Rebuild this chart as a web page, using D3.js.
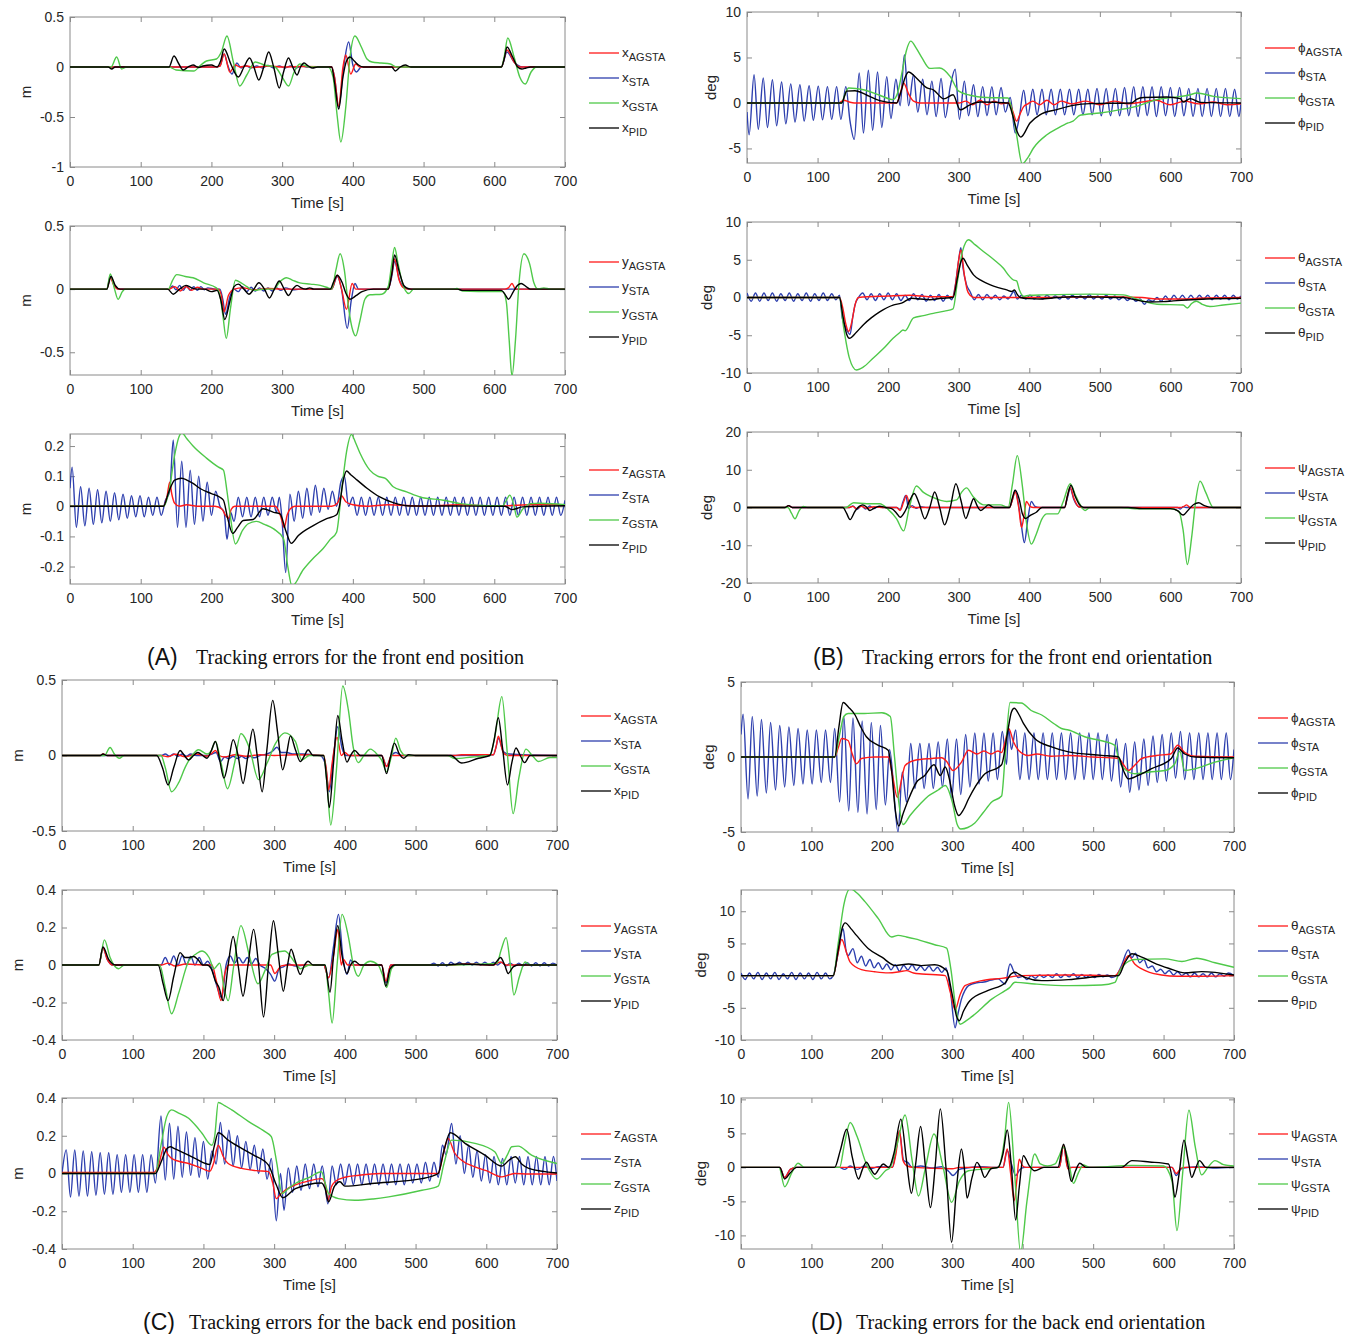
<!DOCTYPE html>
<html><head><meta charset="utf-8">
<script src="https://cdn.jsdelivr.net/npm/d3@7"></script>
<style>body{margin:0;background:#fff;}svg{display:block;}text{font-family:"Liberation Sans",Arial,sans-serif;}</style>
</head><body><svg id="c" width="1359" height="1334"></svg>
<script>
// ---------- axis tick values ----------
const timeTicks=[0,100,200,300,400,500,600,700];
const ticksA1=[-1,-0.5,0,0.5], ticksA2=[-0.5,0,0.5], ticksA3=[-0.2,-0.1,0,0.1,0.2];
const ticksB1=[-5,0,5,10], ticksB2=[-10,-5,0,5,10], ticksB3=[-20,-10,0,10,20];
const ticksC1=[-0.5,0,0.5], ticksC2=[-0.4,-0.2,0,0.2,0.4], ticksC3=[-0.4,-0.2,0,0.2,0.4];
const ticksD1=[-5,0,5], ticksD2=[-10,-5,0,5,10], ticksD3=[-10,-5,0,5,10];
const limA1=[-1,0.5], limA2=[-0.68,0.5], limA3=[-0.258,0.24];
const limB1=[-6.6,10], limB2=[-10,10], limB3=[-20,20];
const limC1=[-0.5,0.5], limC2=[-0.4,0.4], limC3=[-0.4,0.4];
const limD1=[-5,5], limD2=[-10,13.3], limD3=[-12,10.2];
const seriesNames=['AGSTA','STA','GSTA','PID'];
const captions=[['(A)','Tracking errors for the front end position'],['(B)','Tracking errors for the front end orientation'],['(C)','Tracking errors for the back end position'],['(D)','Tracking errors for the back end orientation']];

// ---------- series: flat lists [time, value, time, value, ...] ----------
// (A) front end position
const A1_AGSTA=[0,0,205,0,212,0.01,218,0.13,226,-0.05,234,0.02,240,0,250,0.01,260,-0.005,280,0.01,300,0,330,0.005,370,0,374,-0.1,380,-0.39,386,0,390,0.12,397,-0.07,404,0.03,410,0,610,0,618,0.17,628,0.05,636,0,700,0];
const A1_STA=[0,0,205,0,212,0.01,218,0.13,223,0.02,229,-0.07,236,0.04,242,-0.01,248,0.015,256,-0.01,264,0.01,272,-0.01,280,0.015,288,-0.01,296,0.01,304,-0.01,312,0.01,320,-0.01,328,0.01,336,0,370,0,374,-0.1,380,-0.40,387,0,394,0.25,400,0.02,405,-0.05,412,0,610,0,618,0.15,628,0.05,640,0,700,0];
const A1_GSTA=[0,0,58,0,66,0.10,73,-0.02,80,0,140,0,150,-0.03,175,-0.04,185,0.02,193,0.06,207,0.08,214,0.15,222,0.31,231,0.05,240,-0.19,250,-0.08,262,0.05,275,0.02,290,0,300,-0.1,309,-0.19,317,-0.05,325,0.03,340,0,365,0,372,-0.1,378,-0.5,383,-0.75,390,-0.4,396,0.1,403,0.31,412,0.2,420,0.08,427,0.05,440,0.04,453,0.03,462,0,610,0,614,0.1,619,0.29,628,0.1,636,-0.1,644,-0.17,652,-0.05,660,0,700,0];
const A1_PID=[0,0,54,0,59,-0.02,64,0,140,0,147,0.11,154,0.03,160,-0.03,167,0,174,0.02,182,-0.005,188,0.01,200,0.02,208,0,213,0.06,218,0.18,228,0.02,238,-0.10,246,0,254,0.09,260,0,267,-0.13,274,0,281,0.15,288,0,296,-0.21,302,-0.05,309,0.09,315,0,321,-0.08,326,0,331,0.04,337,0.01,343,-0.01,350,0,370,0,374,-0.15,380,-0.42,386,-0.1,391,0.06,396,0.10,402,0.06,408,0.02,415,0,455,0,460,-0.04,467,0,474,0.02,482,0,610,0,614,0.08,618,0.20,626,0.1,633,0,639,-0.02,645,-0.01,651,0,700,0];
const A2_AGSTA=[0,0,52,0,57,0.09,62,0.03,68,0,140,0,148,0.02,156,-0.015,164,0.02,172,-0.01,180,0.015,188,0,210,0,214,-0.05,218,-0.18,224,-0.05,232,0,245,0.01,260,-0.005,280,0.005,300,0,370,0,378,0.11,384,0,391,-0.16,399,0.045,404,0,450,0,455,0.12,459,0.24,465,0.08,472,0.01,480,0,615,0,620,0.01,625,0.045,630,0,700,0];
const A2_STA=[0,0,52,0,57,0.1,62,0.04,68,0,140,0,145,0.025,150,-0.005,155,0.03,160,-0.01,165,0.025,170,-0.01,175,0.02,180,-0.01,185,0.02,190,-0.005,195,0.01,205,0,212,0,216,-0.08,220,-0.2,226,-0.06,232,0,238,-0.02,244,0.02,250,-0.02,256,0.015,262,-0.015,268,0.01,274,-0.015,280,0.01,286,-0.015,292,0.01,298,-0.01,305,0.01,315,-0.005,325,0,370,0,378,0.1,384,0,392,-0.31,398,-0.08,403,0.045,408,0,450,0,455,0.1,459,0.22,466,0.07,474,0.01,480,0,700,0];
const A2_GSTA=[0,0,52,0,57,0.12,63,0,68,-0.08,74,-0.02,78,0,139,0,145,0.07,151,0.115,163,0.1,174,0.09,189,0.05,207,0.01,212,-0.05,216,-0.2,221,-0.39,227,-0.15,234,0.07,242,0.05,250,0.02,259,-0.01,275,0,288,0,297,0.06,306,0.09,315,0.07,325,0.05,340,0.04,354,0.03,365,0.01,370,0,376,0.15,382,0.28,388,0.15,394,-0.15,400,-0.33,404,-0.37,410,-0.25,417,-0.08,424,-0.045,441,-0.04,450,0.02,455,0.2,459,0.33,464,0.2,470,0.05,479,-0.035,486,0,540,0,547,0.005,555,-0.015,600,-0.02,612,-0.02,617,-0.1,621,-0.4,625,-0.69,630,-0.4,635,0.05,642,0.28,650,0.2,656,0.05,662,0,670,0.01,680,0,700,0];
const A2_PID=[0,0,52,0,58,0.10,64,0.03,71,0,138,0,146,-0.04,155,0,164,0.03,172,0.01,180,0,190,0,200,-0.02,208,-0.01,213,-0.08,219,-0.24,226,-0.1,232,0.02,238,0.04,246,0,253,-0.04,260,0,267,0.05,275,0,282,-0.07,289,0,296,0.065,303,0,309,-0.05,315,0,321,0.03,327,0.01,333,0,339,0.01,345,0,368,0,373,0.06,378,0.11,385,0.05,390,-0.03,396,-0.08,405,-0.05,413,-0.02,429,0,450,0,455,0.12,459,0.27,465,0.15,472,0.03,476,0.01,482,0,548,0,555,-0.01,610,-0.01,615,-0.04,620,-0.08,627,-0.02,633,0.03,638,0.045,645,0.02,651,0,700,0];
const A3_AGSTA=[0,0,132,0,137,0.03,141,0.08,144,0.04,148,0.01,155,0,165,0.005,180,0,205,0,215,-0.01,220,-0.03,224,-0.04,228,-0.01,233,0,290,0,296,-0.02,300,-0.05,303,-0.07,307,-0.03,311,-0.01,318,0,370,0,378,0.01,384,0.035,390,0.015,400,0.005,420,0,450,0.005,500,0,550,0.005,600,0,650,0.005,700,0.005];
const A3_STA=[0,0.06,3,0.13,9,-0.07,15,0.065,21,-0.065,27,0.06,33,-0.06,39,0.055,45,-0.055,51,0.05,57,-0.05,63,0.045,69,-0.045,75,0.04,81,-0.04,87,0.035,93,-0.035,99,0.035,105,-0.035,111,0.03,117,-0.03,123,0.03,129,-0.03,135,0.02,141,0.05,146,0.22,152,-0.07,158,0.15,164,-0.07,170,0.12,176,-0.06,182,0.10,188,-0.05,194,0.08,200,-0.03,206,0.05,212,0,218,-0.02,222,-0.11,227,-0.02,232,-0.05,238,0.03,244,-0.035,250,0.03,256,-0.035,262,0.03,268,-0.035,274,0.03,280,-0.03,286,0.03,292,-0.02,296,0.03,300,-0.05,305,-0.22,311,0.04,317,-0.05,323,0.05,329,-0.04,335,0.06,341,-0.03,347,0.07,353,-0.02,359,0.06,365,-0.01,371,0.05,377,0,383,0.08,388,0.10,394,0,400,0.03,406,-0.03,412,0.03,418,-0.03,424,0.03,430,-0.03,436,0.03,442,-0.03,448,0.03,454,-0.03,460,0.03,466,-0.03,472,0.03,478,-0.03,484,0.03,490,-0.03,496,0.03,502,-0.03,508,0.03,514,-0.03,520,0.03,526,-0.03,532,0.03,538,-0.03,544,0.03,550,-0.03,556,0.03,562,-0.03,568,0.03,574,-0.03,580,0.03,586,-0.03,592,0.03,598,-0.03,604,0.03,610,-0.03,616,0.03,622,-0.03,628,0.03,634,-0.03,640,0.03,646,-0.03,652,0.03,658,-0.03,664,0.03,670,-0.03,676,0.03,682,-0.03,688,0.03,694,-0.03,700,0.02];
const A3_GSTA=[0,0,132,0,140,0.05,148,0.17,154,0.23,158,0.244,165,0.225,174,0.2,193,0.16,210,0.13,217,0.12,222,0.05,226,-0.02,234,-0.125,244,-0.08,252,-0.058,264,-0.05,275,-0.06,288,-0.075,302,-0.108,308,-0.2,314,-0.265,330,-0.21,345,-0.17,358,-0.14,368,-0.11,377,-0.086,384,0.05,391,0.18,398,0.238,404,0.21,410,0.177,424,0.12,435,0.1,446,0.093,457,0.065,476,0.048,495,0.031,528,0.02,552,0.009,590,0.002,612,0.002,617,0.02,622,0.037,628,0,632,-0.036,640,-0.01,651,0.009,665,0.01,700,0.005];
const A3_PID=[0,0,132,0,140,0.05,148,0.087,158,0.093,166,0.086,174,0.076,184,0.059,200,0.042,212,0.03,217,0.02,223,-0.04,230,-0.09,237,-0.07,245,-0.047,259,-0.044,273,-0.008,288,-0.02,297,-0.025,305,-0.08,313,-0.123,323,-0.097,344,-0.064,363,-0.041,377,-0.028,381,0,386,0.08,391,0.117,397,0.105,403,0.093,420,0.06,438,0.031,457,0.012,481,0.001,542,0.001,600,0,615,0,625,-0.011,640,-0.002,700,0.002];
// (B) front end orientation
const B1_AGSTA=[0,0,130,0,137,0.3,145,0.1,152,0,212,0,217,1.0,222,2.2,229,1.0,236,0.2,245,0,300,0,310,0.2,320,-0.2,330,0.3,340,-0.2,350,0.2,360,-0.1,372,0,377,-1.0,382,-2.0,387,-1.2,392,-0.4,398,-0.1,405,0.2,415,-0.2,425,0.3,435,-0.2,445,0.2,460,-0.1,480,0.2,500,-0.2,520,0.2,540,-0.1,560,0.1,580,0.3,600,-0.2,620,0.2,640,-0.1,660,0.1,680,-0.2,700,-0.1];
const B1_STA=[0,-1.0,3,-3.5,10,3.1,16,-2.9,23,2.75,29,-2.7,36,2.55,42,-2.5,49,2.3,55,-2.3,62,2.1,68,-2.1,75,2.0,81,-2.0,88,1.9,94,-1.9,101,1.85,107,-1.85,114,1.8,120,-1.8,127,1.8,133,-1.8,140,1.8,146,-2.0,152,-4.0,159,3.3,165,-3.3,172,3.6,178,-3.0,185,3.4,191,-2.7,198,2.9,204,-1.7,211,2.6,217,-0.3,223,5.3,229,-0.3,236,3.1,242,-1.0,249,2.6,255,-1.3,262,2.4,268,-1.5,275,2.7,281,-1.6,288,1.8,295,3.7,301,-1.8,308,2.4,314,-1.4,321,2.0,327,-1.5,334,1.8,340,-1.4,347,1.8,353,-1.3,360,1.7,366,-1.0,373,0.6,380,-3.3,386,-1.5,392,1.4,398,-1.4,405,1.5,411,-1.3,418,1.5,424,-1.3,431,1.5,437,-1.3,444,1.5,450,-1.3,457,1.5,463,-1.3,470,1.5,476,-1.3,483,1.5,489,-1.3,496,1.6,502,-1.4,509,1.6,515,-1.4,522,1.6,528,-1.4,535,1.7,541,-1.4,548,1.8,554,-1.5,561,1.8,567,-1.4,574,1.8,580,-1.5,587,1.8,593,-1.4,600,1.7,606,-1.5,613,1.7,619,-1.4,626,1.6,632,-1.5,639,1.6,645,-1.5,652,1.6,658,-1.5,665,1.6,671,-1.5,678,1.6,684,-1.5,691,1.5,697,-1.5,700,0];
const B1_GSTA=[0,0,134,0,139,1.0,144,1.65,165,1.45,188,0.85,207,0.37,213,1.0,220,3.5,226,5.8,232,6.8,240,6.0,248,4.95,259,3.8,273,3.85,288,2.9,300,1.3,316,0.85,340,0.6,370,0.55,376,-1.0,382,-3.5,390,-6.7,398,-6.0,406,-4.95,425,-3.5,440,-2.8,455,-2.2,462,-2.0,472,-1.35,500,-1.1,529,-0.73,552,-0.37,581,0.37,604,0.62,628,0.9,637,1.1,661,0.73,700,0.48];
const B1_PID=[0,0,134,0,138,0.7,141,1.3,153,1.35,170,0.85,188,0.25,212,0,218,1.2,224,2.8,229,3.4,240,2.75,255,1.65,264,1.45,279,0.45,292,0.9,302,-0.75,316,-0.2,330,0.1,370,0,377,-1.5,383,-3.2,388,-3.75,401,-2.2,415,-1.3,439,-0.73,462,-0.26,486,-0.07,545,0,552,0.4,562,0.6,595,0.66,614,0.48,618,0.1,628,0.48,642,0.07,700,0];
const B2_AGSTA=[0,0,131,0,136,-1.5,140,-3.5,144,-4.5,149,-3.0,153,-1.0,158,0,200,0.2,230,0.3,260,0.1,292,0.1,296,2.0,300,5.0,303,6.3,308,3.0,312,1.0,316,0.3,322,0,400,0,500,0.1,560,0,580,-0.2,620,-0.2,640,-0.1,700,0];
const B2_STA=[0,0.6,6,-0.5,12,0.6,18,-0.5,24,0.6,30,-0.4,36,0.6,42,-0.5,48,0.5,54,-0.4,60,0.6,66,-0.5,72,0.5,78,-0.4,84,0.6,90,-0.5,96,0.5,102,-0.4,108,0.6,114,-0.4,120,0.5,126,-0.3,131,0.3,135,-2.7,140,-4.0,146,-4.9,150,-2.5,153,-1.0,158,0,164,0.6,170,-0.3,176,0.5,182,-0.4,188,0.5,194,-0.3,200,0.6,206,-0.3,212,0.5,218,-0.4,224,0.3,230,-0.4,236,0.5,242,-0.3,248,0.4,254,-0.5,260,0.3,266,-0.4,272,0.4,278,-0.5,284,0.3,290,-0.3,295,1.5,300,5.0,303,6.6,306,4.0,311,1.7,316,0.8,322,-0.3,328,0.4,334,-0.3,340,0.4,346,-0.2,352,0.3,358,-0.3,364,0.2,370,-0.2,374,0.3,378,0.8,383,-0.2,389,0.3,395,-0.2,401,0.3,407,-0.2,413,0.2,419,-0.2,425,0.3,431,-0.1,437,0.2,443,-0.2,449,0.3,455,-0.2,461,0.3,467,-0.1,473,0.2,479,-0.2,485,0.4,491,-0.2,497,0.2,503,-0.2,509,0.3,515,-0.2,521,0.2,527,-0.3,533,0.1,539,-0.4,545,0,551,-0.5,557,-0.2,563,-0.9,569,-0.3,575,-0.5,581,0,587,-0.5,593,0.2,599,-0.4,605,0.3,611,-0.3,617,0.3,623,-0.3,629,0.3,635,-0.3,641,0.3,647,-0.2,653,0.3,659,-0.3,665,0.3,671,-0.2,677,0.3,683,-0.3,689,0.3,695,-0.2,700,0.2];
const B2_GSTA=[0,0,131,0,137,-4.0,145,-8.0,155,-9.6,165,-9.2,179,-8.0,193,-6.8,207,-5.4,217,-4.6,221,-4.3,224,-4.4,236,-2.7,250,-2.4,264,-2.1,280,-1.8,292,-1.5,298,2.0,305,6.0,314,7.65,323,7.0,335,6.1,350,5.0,363,3.9,372,2.8,377,2.35,382,2.2,386,1.0,392,0.15,400,0.3,420,0.35,486,0.45,533,0.35,555,-0.3,581,-0.9,618,-1.0,624,-1.4,630,-0.8,637,-0.5,645,-0.9,656,-1.2,675,-1.0,700,-0.75];
const B2_PID=[0,0,131,0,136,-2.5,141,-4.8,145,-5.4,155,-4.6,165,-3.6,176,-2.7,188,-1.9,207,-1.0,219,-0.75,233,-0.1,246,-0.2,259,-0.3,275,-0.1,292,0,298,2.5,303,4.7,306,5.2,312,4.3,321,3.0,333,2.2,344,1.7,356,1.3,368,1.0,375,0.8,379,1.0,383,0.4,387,0,400,-0.15,415,-0.2,440,0,462,0.1,500,0.05,533,0,550,-0.3,571,-0.6,590,-0.55,604,-0.45,630,-0.3,651,-0.2,700,-0.1];
const B3_AGSTA=[0,0,54,0,59,0.5,64,0,145,0,150,0.3,155,-0.3,162,0.3,170,-0.2,180,0.2,190,0,212,0,217,-0.8,222,1.5,226,3.2,231,0.5,236,0,372,0,376,2.0,380,4.1,385,0,389,-5.3,393,-1.5,396,1.6,401,0.3,406,0,450,0,454,3.0,458,5.4,463,2.5,470,0.2,476,0,615,0,619,0.3,623,0.7,628,0,700,0];
const B3_STA=[0,0,54,0,59,0.5,64,0,145,0,150,0.4,156,-0.5,162,0.5,168,-0.4,174,0.4,180,-0.3,186,0.3,192,0,212,0,217,-0.5,221,1.5,225,3.2,229,-0.3,234,0.5,240,-0.2,246,0.2,255,0,372,0,376,2.0,380,4.5,385,0.5,389,-5.0,393,-9.3,398,-3.0,403,1.6,408,0.3,414,0,450,0,454,2.5,458,5.0,463,2.2,470,0.2,476,0,610,0,614,-0.4,618,0.2,622,0,700,0];
const B3_GSTA=[0,0,58,0,63,-1.5,68,-3.0,74,-0.8,80,0.3,86,0,140,0,151,1.25,170,1.0,188,1.0,200,-0.5,212,-3.0,222,-6.2,230,0,240,5.7,250,4.0,262,2.8,283,1.6,297,2.0,304,4.0,311,5.2,320,3.0,335,0.7,359,0.7,370,0,376,6.0,383,13.75,390,6.0,396,-4.0,403,-9.7,410,-7.0,418,-3.0,425,-1.7,440,-1.7,448,1.5,458,6.3,466,3.0,479,-0.8,486,0,530,0,550,-0.35,600,-0.35,612,-1.0,618,-6.0,624,-15.1,630,-8.0,636,2.0,642,7.0,650,4.0,661,0,700,0];
const B3_PID=[0,0,54,0,59,0.5,64,0,136,0,141,-1.5,146,-3.2,153,-1.0,159,0.3,164,0.7,169,0.2,174,-0.8,180,-0.2,188,0.35,196,0,205,-0.3,212,-1.5,217,-2.6,224,-1.0,231,2.0,237,3.7,244,1.0,252,-3.0,259,0,266,4.1,273,0,280,-4.6,288,0,296,6.3,303,2.0,310,-2.9,316,0,321,2.3,326,0.5,331,-0.8,337,0,342,0.7,350,0,372,0,376,2.5,380,4.55,386,2.0,390,-1.5,395,-2.9,402,-2.0,410,-1.25,418,0,450,0,454,3.0,459,5.9,465,3.0,471,0.8,477,0,540,0,560,-0.3,600,-0.3,610,-0.8,618,-2.0,626,-0.5,633,0.8,640,1.25,648,0.5,661,0,700,0];
// (C) back end position
const C1_AGSTA=[0,0,54,0,58,0.01,64,0,140,0,150,-0.008,160,0.008,175,-0.008,190,0.01,205,-0.005,212,0.015,217,0.033,222,0,230,-0.01,245,0.005,260,-0.005,280,0.005,300,0,330,0.005,370,0,374,-0.1,377,-0.23,382,-0.05,389,0.12,395,0,400,0.02,406,0,452,0,459,-0.073,466,0,555,0,565,0.005,610,0.005,614,0.06,617,0.127,624,0.02,630,0,700,0];
const C1_STA=[0,0,140,0,146,0.01,152,-0.005,158,0.01,164,-0.005,170,0.01,176,-0.005,182,0.01,190,0,205,0,212,0.01,218,0.02,224,-0.04,230,-0.01,236,-0.02,242,-0.005,248,-0.02,254,-0.005,260,-0.02,266,-0.005,272,-0.015,280,0,290,0.01,298,0.03,304,0.055,310,0.02,318,0.02,326,0.01,340,0.01,365,0,372,-0.05,378,-0.24,384,0,390,0.19,396,0.05,402,0,452,0,459,-0.07,466,0,472,0.02,480,0,555,0,610,0.005,614,0.06,617,0.115,624,0.027,632,0.01,700,0];
const C1_GSTA=[0,0,60,0,68,0.053,74,0.01,81,-0.018,88,0,140,0,146,-0.08,155,-0.24,165,-0.18,174,-0.08,184,0,193,0.038,205,0.01,211,0.03,217,0.093,225,-0.05,234,-0.22,244,-0.05,253,0.145,265,0.05,278,-0.16,290,-0.05,302,0.08,315,0.15,330,0.093,339,-0.03,350,0,370,0,375,-0.2,380,-0.46,388,-0.1,397,0.46,405,0.3,412,0.05,419,-0.047,427,0,436,0.042,447,0,452,-0.03,459,-0.107,466,0,472,0.115,479,0.03,486,0,545,0,555,-0.02,580,-0.01,605,0,613,0.15,622,0.39,630,0,638,-0.385,646,-0.15,656,0.042,665,0,674,-0.04,690,-0.013,700,-0.013];
const C1_PID=[0,0,54,0,58,0.01,64,0,134,0,142,-0.08,150,-0.195,158,-0.08,167,0.033,173,0,179,-0.03,186,0,192,0.02,199,0,205,-0.018,211,0.03,217,0.093,223,-0.03,229,-0.15,236,-0.02,242,0.105,249,0,256,-0.185,263,0,270,0.175,276,0,283,-0.24,290,0.05,298,0.365,305,0.15,312,-0.095,318,0.02,323,0.13,330,0.04,337,-0.04,343,0,348,0.038,355,0,370,0,374,-0.15,378,-0.345,384,-0.05,390,0.265,396,0.1,403,-0.044,408,0,414,0.033,422,0,452,0,459,-0.12,464,-0.02,470,0.082,477,0.01,483,-0.018,490,0.005,500,0,550,0,565,-0.05,589,-0.018,605,0,611,0.1,617,0.25,623,0.05,630,-0.195,636,-0.05,642,0.05,648,0,654,-0.047,662,0,700,0];
const C2_AGSTA=[0,0,52,0,58,0.09,64,0.03,72,0,140,0,150,0.01,160,-0.005,175,0.005,200,0,212,0,218,-0.08,225,-0.19,230,-0.05,236,0,295,0,301,-0.045,310,-0.005,320,0,370,0,377,-0.068,384,0.05,390,0.19,395,0,398,0.03,404,0,452,0,458,-0.086,465,0,555,0,570,0.005,610,0,620,0.016,628,0,700,0];
const C2_STA=[0,0,52,0,58,0.09,64,0.03,72,0,140,0,146,0.04,152,0,158,0.048,164,0,170,0.05,176,0,182,0.045,188,0,194,0.04,200,0,206,0.02,212,-0.02,218,-0.1,226,-0.175,232,0,238,0.048,244,0.01,250,0.04,256,0.01,262,0.04,268,0.005,274,0.035,280,0,288,-0.02,295,-0.05,301,-0.086,307,-0.02,313,-0.01,320,0.005,330,-0.005,345,0,370,0,377,-0.068,384,0.1,391,0.27,397,0.05,403,-0.05,408,0.027,414,0,452,0,458,-0.095,465,0,520,0,526,0.01,532,-0.005,538,0.012,544,-0.005,550,0.015,556,0,562,0.015,568,0,574,0.015,580,0,586,0.015,592,0,598,0.015,604,0,610,0.015,616,0,622,0.015,628,-0.005,634,0.01,640,-0.005,646,0.01,652,-0.005,658,0.012,664,-0.005,670,0.012,676,-0.005,682,0.012,688,-0.005,694,0.01,700,0];
const C2_GSTA=[0,0,52,0,60,0.134,68,0.04,80,-0.02,88,0,138,0,146,-0.12,155,-0.26,165,-0.15,179,0.02,190,0.06,198,0.075,208,0.04,215,-0.02,220,0,223,0.01,229,-0.12,235,-0.19,243,0,253,0.21,265,0.05,277,-0.1,287,-0.03,297,0.057,315,0.075,330,0.01,337,-0.02,350,0,372,0,377,-0.15,382,-0.31,389,0,396,0.27,405,0.15,412,0,419,-0.06,427,0,436,0.02,447,0,453,-0.05,459,-0.12,466,-0.02,472,0,500,0,540,0,600,0.005,615,0.01,621,0.08,628,0.146,634,0,639,-0.16,647,-0.06,655,0.016,662,0,700,0];
const C2_PID=[0,0,52,0,58,0.096,66,0.03,76,0,136,0,143,-0.1,150,-0.19,158,-0.06,167,0.066,174,0.04,180,0.04,186,0.045,192,0.03,199,0,205,0,211,-0.02,217,-0.086,222,-0.12,228,-0.19,235,0,242,0.152,249,0,256,-0.166,263,0,271,0.19,278,0,285,-0.277,292,0,299,0.236,306,0.05,313,-0.14,319,0,324,0.084,330,0.02,337,-0.05,343,0,348,0.02,355,0,372,0,379,-0.145,384,0.05,390,0.21,396,0.05,403,-0.045,408,0,414,0.02,422,0,452,0,458,-0.113,464,-0.02,471,0,545,0,560,0.005,610,0,615,0.02,620,0.04,626,0,631,-0.045,638,-0.01,645,0,700,0];
const C3_AGSTA=[0,0.005,130,0.005,137,0.05,144,0.14,150,0.1,155,0.08,165,0.065,179,0.053,198,0.027,209,0.012,214,0.05,221,0.15,228,0.09,235,0.053,254,0.027,275,0.015,292,0.01,298,-0.05,303,-0.133,309,-0.11,315,-0.09,330,-0.06,344,-0.044,367,-0.027,372,-0.05,376,-0.142,381,-0.07,386,-0.044,400,-0.02,420,-0.009,450,0,532,0,539,0.1,546,0.186,555,0.11,565,0.07,584,0.035,600,0.015,622,-0.018,640,0,660,-0.003,700,-0.003];
const C3_STA=[0,0,6,0.125,12,-0.125,18,0.125,24,-0.12,30,0.12,36,-0.12,42,0.115,48,-0.115,54,0.11,60,-0.11,66,0.11,72,-0.11,78,0.1,84,-0.1,90,0.1,96,-0.1,102,0.1,108,-0.1,114,0.1,120,-0.1,126,0.1,132,-0.05,140,0.305,146,-0.035,152,0.266,158,-0.03,164,0.25,170,-0.02,176,0.22,182,-0.01,188,0.19,194,-0.02,200,0.17,206,-0.03,212,0.12,218,0.05,224,0.27,230,0.05,236,0.23,242,0.04,248,0.2,254,0.03,260,0.17,266,0.02,272,0.15,278,0,284,0.13,290,-0.03,296,0.08,303,-0.25,309,0,314,-0.195,320,0.03,326,-0.1,332,0.04,338,-0.09,344,0.05,350,-0.08,356,0.05,362,-0.07,368,0.04,376,-0.16,382,0.04,388,-0.06,394,0.05,400,-0.06,406,0.05,412,-0.06,418,0.05,424,-0.06,430,0.05,436,-0.06,442,0.05,448,-0.06,454,0.05,460,-0.06,466,0.05,472,-0.06,478,0.05,484,-0.06,490,0.05,496,-0.05,502,0.05,508,-0.05,514,0.06,520,-0.04,526,0.06,532,-0.02,538,0.15,543,0.1,551,0.265,557,0.05,563,0.2,569,0,575,0.15,581,-0.02,587,0.12,593,-0.04,599,0.1,605,-0.05,611,0.09,617,-0.06,623,0.08,629,-0.06,635,0.09,641,-0.05,647,0.09,653,-0.06,659,0.09,665,-0.06,671,0.09,677,-0.06,683,0.09,689,-0.06,695,0.09,700,-0.04];
const C3_GSTA=[0,0,132,0,140,0.15,148,0.3,155,0.337,165,0.32,179,0.293,190,0.25,198,0.213,212,0.15,216,0.2,221,0.376,230,0.36,240,0.337,264,0.275,287,0.222,296,0.195,304,0.05,311,-0.106,320,-0.08,330,-0.053,350,-0.02,367,0.009,372,-0.05,377,-0.106,391,-0.133,414,-0.142,440,-0.135,462,-0.124,509,-0.089,532,-0.067,540,0.05,551,0.177,584,0.16,612,0.115,622,0.053,630,0.1,636,0.142,645,0.145,664,0.097,700,0.053];
const C3_PID=[0,0,132,0,140,0.06,148,0.13,153,0.142,160,0.13,169,0.115,188,0.08,209,0.048,215,0.14,221,0.216,235,0.177,254,0.133,271,0.097,292,0.044,303,-0.06,312,-0.128,330,-0.08,367,-0.05,372,-0.08,377,-0.15,385,-0.07,393,-0.044,400,-0.067,438,-0.053,509,-0.027,532,0,540,0.12,549,0.216,570,0.16,598,0.097,622,0.039,632,0.07,641,0.089,650,0.05,660,0.027,700,0.003];
// (D) back end orientation
const D1_AGSTA=[0,0,133,0,138,0.6,143,1.23,152,1.1,158,0.2,164,-0.45,171,-0.1,190,0,209,0,215,-1.2,222,-2.7,228,-1.5,233,-0.56,247,-0.22,270,-0.1,285,-0.05,292,-0.3,301,-0.9,313,-0.34,323,0.45,335,0.2,345,0.4,355,0.2,365,0.4,370,0.3,375,1.0,380,1.9,387,1.0,394,0.45,408,0.1,420,0.2,440,0.05,465,0.1,500,0,536,-0.1,543,-0.5,550,-0.9,560,-0.5,569,-0.1,590,0.1,610,0.2,620,0.78,630,0.3,645,0.05,700,0];
const D1_STA=[0,1.5,3,2.85,10,-2.8,16,2.7,23,-2.6,29,2.5,36,-2.4,42,2.3,49,-2.2,55,2.1,62,-2.0,68,2.0,75,-1.9,81,1.9,88,-1.8,94,1.8,101,-1.8,107,1.8,114,-1.7,120,1.8,127,-1.7,133,1.9,140,-3.0,146,2.7,153,-3.6,159,2.6,166,-3.7,172,2.4,179,-3.8,185,2.3,192,-3.5,198,2.1,205,-3.2,211,0.5,223,-5.0,229,-1.0,235,-3.0,241,0.9,247,-2.1,254,0.9,260,-2.1,267,0.9,273,-2.1,280,1.0,286,-2.0,293,1.2,299,-2.8,306,1.2,312,-2.5,319,1.5,325,-2.0,332,1.6,338,-1.8,345,1.6,351,-1.6,358,1.6,364,-1.5,371,1.7,377,-0.5,380,1.9,384,0.5,390,1.8,396,-1.5,403,1.6,409,-1.5,416,1.6,422,-1.5,429,1.6,435,-1.5,442,1.6,448,-1.5,455,1.6,461,-1.5,468,1.6,474,-1.5,481,1.6,487,-1.5,494,1.6,500,-1.5,507,1.6,513,-1.5,520,1.5,526,-1.6,533,1.2,539,-2.0,546,0.9,552,-2.35,559,1.0,565,-2.2,572,1.2,578,-1.9,585,1.4,591,-1.7,598,1.5,604,-1.6,611,1.6,617,-1.4,624,1.7,630,-1.5,637,1.6,643,-1.5,650,1.6,656,-1.5,663,1.6,669,-1.5,676,1.6,682,-1.5,689,1.6,695,-1.5,700,0.5];
const D1_GSTA=[0,0,133,0,140,1.5,146,2.7,152,2.9,175,2.9,200,2.95,212,2.7,218,0,224,-3.0,230,-4.5,240,-3.9,255,-3.1,266,-2.6,280,-2.2,290,-1.9,300,-3.0,307,-4.5,312,-4.8,322,-4.7,332,-4.4,344,-3.7,356,-3.0,370,-2.6,375,0,382,3.63,398,3.6,412,3.1,427,2.8,445,2.2,455,1.9,465,1.8,488,1.35,531,0.78,535,0.1,540,-0.56,559,-1.12,580,-1.0,602,-0.9,616,-0.45,623,0.38,630,-0.9,645,-0.78,673,-0.34,700,-0.05];
const D1_PID=[0,0,133,0,139,2.0,145,3.63,153,3.3,162,2.8,170,2.0,178,1.35,195,0.78,209,0.45,214,-1.0,219,-3.5,224,-4.6,230,-3.8,238,-2.8,249,-1.7,261,-1.23,274,-0.52,283,-1.23,290,-0.67,296,-1.5,303,-3.2,309,-3.9,316,-3.5,323,-2.8,344,-1.23,370,-0.52,378,1.5,384,3.0,388,3.25,395,2.8,401,2.24,417,1.23,441,0.67,465,0.34,512,0.11,536,0,543,-0.9,550,-1.46,565,-1.2,583,-0.78,611,-0.1,620,0.6,630,0.2,645,0,700,-0.05];
const D2_AGSTA=[0,0,131,0,137,3.0,143,5.6,150,3.5,155,2.1,171,0.94,190,0.6,209,0.42,225,0.6,235,0.78,245,0.4,257,0.26,290,0,297,-2.5,304,-5.3,311,-3.0,318,-1.56,342,-0.78,370,-0.42,398,0,465,0.1,531,0,540,1.2,550,3.1,559,1.8,569,1.04,580,0.5,597,0.1,620,-0.1,654,-0.1,700,0];
const D2_STA=[0,0.4,6,-0.6,12,0.4,18,-0.5,24,0.5,30,-0.6,36,0.4,42,-0.5,48,0.5,54,-0.6,60,0.3,66,-0.5,72,0.5,78,-0.6,84,0.4,90,-0.5,96,0.4,102,-0.6,108,0.5,114,-0.5,120,0.4,126,-0.5,131,0,137,3.0,145,7.3,149,4.0,152,3.1,159,4.2,165,2.0,171,3.0,177,1.5,183,2.5,189,1.2,195,2.0,201,1.0,207,1.8,213,0.9,219,1.7,225,0.7,231,1.6,237,0.9,243,1.7,249,0.8,255,1.5,261,0.8,267,1.5,273,0.7,279,1.3,285,0.5,291,1.2,297,-2.0,304,-8.1,308,-6.0,313,-3.65,318,-2.3,323,-1.56,335,-1.1,345,-1.0,355,-0.7,365,-0.5,375,-1.3,382,1.8,388,0.5,394,-0.3,400,-0.1,406,-0.6,412,0,418,-0.4,424,0.1,430,-0.3,436,0.1,442,-0.3,448,0.3,454,-0.3,460,0.2,466,-0.2,472,0.3,478,-0.3,484,0.2,490,-0.3,496,0.1,502,-0.3,508,0.2,514,-0.2,520,0.1,526,-0.3,532,-0.1,540,1.5,550,4.0,555,2.8,560,3.5,566,2.0,572,2.5,578,1.2,584,1.5,590,0.6,596,1.0,602,0.3,608,0.8,614,0.1,620,0.6,626,0,632,0.4,638,-0.2,644,0.4,650,-0.2,656,0.3,662,-0.2,668,0.4,674,-0.2,680,0.3,686,-0.1,692,0.4,700,0];
const D2_GSTA=[0,0,131,0,138,5.0,146,11.0,155,13.5,165,12.8,176,11.5,195,8.85,214,6.0,223,6.25,235,6.0,247,5.7,275,4.8,292,4.27,298,1.0,305,-5.0,311,-7.55,320,-7.0,332,-6.0,356,-3.65,375,-2.34,381,-1.9,389,-1.04,417,-1.3,465,-1.56,512,-1.46,531,-1.04,537,0.5,543,1.56,559,2.5,602,2.6,626,2.2,647,2.7,673,2.0,700,1.3];
const D2_PID=[0,0,131,0,138,4.0,144,7.5,148,8.2,156,7.3,164,6.25,181,4.17,200,2.86,219,1.56,238,1.8,256,1.56,275,1.7,292,0.78,300,-3.0,306,-6.3,310,-7.0,316,-5.5,325,-3.9,351,-2.3,375,-1.15,383,0.2,389,0.52,395,0.2,403,-0.26,427,-0.78,465,-0.62,512,-0.1,536,0,545,2.0,555,3.4,569,2.86,590,1.8,607,1.15,630,0.42,654,0.62,700,0.1];
const D3_AGSTA=[0,0,55,0,62,-1.5,70,-0.3,79,0,215,0,220,2.0,225,5.4,230,1.0,236,0.2,245,0,300,-0.2,310,0,372,0,378,2.7,383,-1.0,388,-4.9,392,-1.5,395,1.2,400,0.2,405,0,452,0,458,3.2,464,-0.2,470,0,612,0,618,-0.9,624,-0.2,630,0,700,0];
const D3_STA=[0,0,55,0,62,-1.5,70,-0.3,79,0,140,0,147,-0.3,155,0.2,165,-0.3,175,0.2,185,-0.2,195,0.1,215,0,220,2.5,225,5.3,231,1.0,237,0.7,243,0,255,0.2,270,-0.1,285,0.1,295,-0.6,301,-1.2,310,-0.3,320,-0.1,340,0.1,355,0,372,0,378,2.45,384,0.5,390,-1.2,396,-0.3,403,0,452,0,458,3.2,464,0,612,0,618,-1.2,625,-0.2,635,0,650,0.1,670,-0.1,700,0];
const D3_GSTA=[0,0,54,0,62,-2.84,72,-0.8,81,0.6,90,0,140,0,147,3.5,155,6.6,165,4.5,178,0.5,193,-1.7,205,-0.5,212,0,222,3.5,233,7.7,243,1.0,252,-4.2,262,0,274,4.9,287,0,299,-5.15,310,-2.0,323,-0.5,350,-0.2,365,0,374,4.0,380,9.55,388,0,397,-12.5,406,-5.0,417,1.96,425,0.5,435,0.2,446,0.5,451,1.5,458,3.0,465,1.0,472,-2.35,479,-0.8,486,0.34,495,0,555,0.3,600,0.2,612,-2.0,619,-9.3,627,-1.0,636,8.4,645,3.0,654,-1.1,663,0,673,1.0,685,0.4,700,0.2];
const D3_PID=[0,0,55,0,62,-1.7,70,-0.8,79,0,133,0,141,2.5,150,5.6,158,1.5,167,-1.7,172,-0.4,178,0.75,184,-0.2,190,-1.0,196,-0.2,202,0.5,210,0,217,2.0,227,7.1,235,1.0,242,-3.8,248,0.5,255,6.0,262,0,269,-5.9,276,0.5,283,8.6,291,0,299,-11.0,306,-3.0,313,2.7,317,0,321,-4.5,328,-1.5,335,0.74,340,0,346,-1.47,355,-0.2,365,0,372,2.0,378,5.5,384,0,390,-7.75,395,-3.0,401,1.7,409,0.3,417,-0.5,430,0,450,0,458,3.4,464,0.5,469,-2.06,475,-0.5,481,0.6,490,0,540,0,555,1.0,580,0.8,607,0.5,612,-1.5,616,-4.4,622,-1.0,629,4.0,635,1.0,640,-1.47,645,-0.3,651,1.0,660,0,700,0];

// ---------- layout (positions/styles) ----------
const colors={AGSTA:'#ff1a1a',STA:'#2d3fae',GSTA:'#4fc94a',PID:'#000000'};
const drawOrder=['STA','AGSTA','GSTA','PID'];
const subplots=[
 {l:70,r:565,t:17,b:167,lim:limA1,ticks:ticksA1,sym:'x',lab:'m',s:[A1_AGSTA,A1_STA,A1_GSTA,A1_PID]},
 {l:70,r:565,t:226,b:375,lim:limA2,ticks:ticksA2,sym:'y',lab:'m',s:[A2_AGSTA,A2_STA,A2_GSTA,A2_PID]},
 {l:70,r:565,t:434,b:584,lim:limA3,ticks:ticksA3,sym:'z',lab:'m',s:[A3_AGSTA,A3_STA,A3_GSTA,A3_PID]},
 {l:747,r:1241,t:12,b:163,lim:limB1,ticks:ticksB1,sym:'ϕ',lab:'deg',s:[B1_AGSTA,B1_STA,B1_GSTA,B1_PID]},
 {l:747,r:1241,t:222,b:373,lim:limB2,ticks:ticksB2,sym:'θ',lab:'deg',s:[B2_AGSTA,B2_STA,B2_GSTA,B2_PID]},
 {l:747,r:1241,t:432,b:583,lim:limB3,ticks:ticksB3,sym:'ψ',lab:'deg',s:[B3_AGSTA,B3_STA,B3_GSTA,B3_PID]},
 {l:62,r:557,t:680,b:831,lim:limC1,ticks:ticksC1,sym:'x',lab:'m',s:[C1_AGSTA,C1_STA,C1_GSTA,C1_PID]},
 {l:62,r:557,t:890,b:1040,lim:limC2,ticks:ticksC2,sym:'y',lab:'m',s:[C2_AGSTA,C2_STA,C2_GSTA,C2_PID]},
 {l:62,r:557,t:1098,b:1249,lim:limC3,ticks:ticksC3,sym:'z',lab:'m',s:[C3_AGSTA,C3_STA,C3_GSTA,C3_PID]},
 {l:741,r:1234,t:682,b:832,lim:limD1,ticks:ticksD1,sym:'ϕ',lab:'deg',s:[D1_AGSTA,D1_STA,D1_GSTA,D1_PID]},
 {l:741,r:1234,t:890,b:1040,lim:limD2,ticks:ticksD2,sym:'θ',lab:'deg',s:[D2_AGSTA,D2_STA,D2_GSTA,D2_PID]},
 {l:741,r:1234,t:1098,b:1249,lim:limD3,ticks:ticksD3,sym:'ψ',lab:'deg',s:[D3_AGSTA,D3_STA,D3_GSTA,D3_PID]}
];
const capPos=[{x:147,tx:196,y:664},{x:813,tx:862,y:664},{x:143,tx:189,y:1329},{x:811,tx:856,y:1329}];

const svg=d3.select('#c');
const toPts=a=>{const o=[];for(let i=0;i<a.length;i+=2)o.push([a[i],a[i+1]]);return o;};
const axisCol='#8a8a8a', txtCol='#262626';

subplots.forEach((sp,k)=>{
  const x=d3.scaleLinear().domain([0,700]).range([sp.l,sp.r]);
  const y=d3.scaleLinear().domain(sp.lim).range([sp.b,sp.t]);
  const g=svg.append('g');
  const cid='clip'+k;
  svg.append('clipPath').attr('id',cid).append('rect').attr('x',sp.l).attr('y',sp.t).attr('width',sp.r-sp.l).attr('height',sp.b-sp.t);
  const ax=(gen,tr,lbl)=>{const a=g.append('g').attr('transform',tr).call(gen);a.select('.domain').remove();a.selectAll('line').attr('stroke',axisCol);a.selectAll('text').attr('fill',txtCol).style('font-size','14px');if(!lbl)a.selectAll('text').remove();return a;};
  ax(d3.axisBottom(x).tickValues(timeTicks).tickSize(-5).tickPadding(9).tickFormat(d3.format('d')),`translate(0,${sp.b})`,true);
  ax(d3.axisTop(x).tickValues(timeTicks).tickSize(-5),`translate(0,${sp.t})`,false);
  const ya=ax(d3.axisLeft(y).tickValues(sp.ticks).tickSize(-5).tickPadding(6).tickFormat(d=>String(d)),`translate(${sp.l},0)`,true);
  ax(d3.axisRight(y).tickValues(sp.ticks).tickSize(-5),`translate(${sp.r},0)`,false);
  g.append('rect').attr('x',sp.l).attr('y',sp.t).attr('width',sp.r-sp.l).attr('height',sp.b-sp.t).attr('fill','none').attr('stroke',axisCol).attr('stroke-width',1);
  let maxw=0;ya.selectAll('text').each(function(){maxw=Math.max(maxw,this.getComputedTextLength());});
  g.append('text').attr('transform',`translate(${sp.l-6-maxw-9},${(sp.t+sp.b)/2}) rotate(-90)`).attr('text-anchor','middle').attr('fill',txtCol).style('font-size','15px').text(sp.lab);
  g.append('text').attr('x',(sp.l+sp.r)/2).attr('y',sp.b+41).attr('text-anchor','middle').attr('fill',txtCol).style('font-size','15px').text('Time [s]');
  const line=d3.line().x(d=>x(d[0])).y(d=>y(d[1])).curve(d3.curveMonotoneX);
  const lg=g.append('g').attr('clip-path',`url(#${cid})`);
  drawOrder.forEach(nm=>{
    const idx=seriesNames.indexOf(nm);
    lg.append('path').datum(toPts(sp.s[idx])).attr('d',line).attr('fill','none').attr('stroke',colors[nm]).attr('stroke-width',1.4).attr('stroke-linejoin','round');
  });
  seriesNames.forEach((nm,i)=>{
    const yy=sp.t+36+25*i;
    g.append('line').attr('x1',sp.r+24).attr('x2',sp.r+54).attr('y1',yy).attr('y2',yy).attr('stroke',colors[nm]).attr('stroke-width',1.3);
    const t=g.append('text').attr('x',sp.r+57).attr('y',yy+4).attr('fill',txtCol).style('font-size','13.5px');
    t.append('tspan').text(sp.sym);
    t.append('tspan').attr('dy',4).style('font-size','11px').text(nm);
  });
});
captions.forEach((c,i)=>{
  const p=capPos[i];
  svg.append('text').attr('x',p.x).attr('y',p.y+1).attr('fill','#111').style('font-size','23px').text(c[0]);
  svg.append('text').attr('x',p.tx).attr('y',p.y).attr('fill','#111').style('font-family','"Liberation Serif","Times New Roman",serif').style('font-size','20px').text(c[1]);
});
</script></body></html>
